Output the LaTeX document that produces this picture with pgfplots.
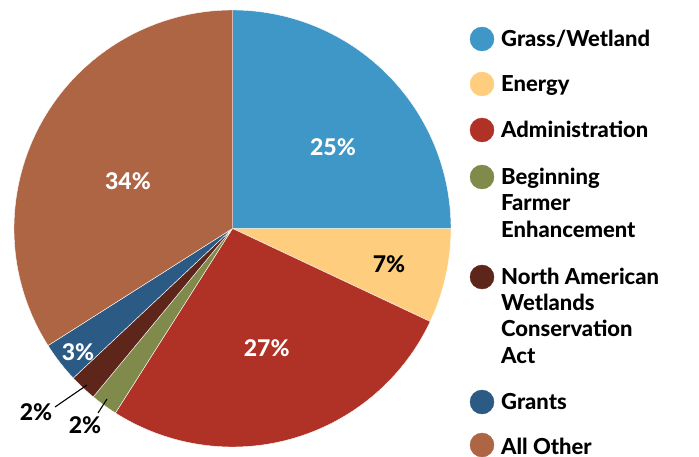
\documentclass[border=0pt]{standalone}
\usepackage{pgfplots}
\pgfplotsset{compat=1.18}
\usepackage{pgfplotstable}
\usepackage{fontspec}
\setmainfont{Lato}[BoldFont={Lato Heavy}]

\definecolor{c0}{HTML}{3F97C7}
\definecolor{c1}{HTML}{FECE7E}
\definecolor{c2}{HTML}{B03125}
\definecolor{c3}{HTML}{7F8A4B}
\definecolor{c4}{HTML}{5E261B}
\definecolor{c5}{HTML}{2B5A85}
\definecolor{c6}{HTML}{AE6544}

% share of each program, in percent, clockwise from 12 o'clock
\pgfplotstableread{
idx value
0 25
1 7
2 27
3 2
4 2
5 3
6 34
}\piedata

% label positions (pixel grid, y up) and values
\pgfplotstableread{
x y v
333 309.3 25
266.7 108 27
128 275 34
78 104 3
}\whitelabels
\pgfplotstableread{
x y v
389 192 7
36 44 2
85 31 2
}\blacklabels

\def\cum{0}
\pgfplotsforeachungrouped \i in {0,...,6}{%
  \pgfplotstablegetelem{\i}{value}\of\piedata
  \pgfmathsetmacro\a{90-3.6*\cum}%
  \pgfmathsetmacro\cum{\cum+\pgfplotsretval}%
  \pgfmathsetmacro\b{90-3.6*\cum}%
  \global\let\cum\cum
  \expandafter\xdef\csname sa\i\endcsname{\a}%
  \expandafter\xdef\csname ea\i\endcsname{\b}%
}

\begin{document}
\begin{tikzpicture}
\begin{axis}[
  width=699pt, height=456pt, scale only axis,
  xmin=0, xmax=699, ymin=0, ymax=456,
  hide axis, clip=false,
  /pgf/number format/assume math mode=true,
]
\pgfplotsinvokeforeach{0,...,6}{%
  \edef\tmp{\noexpand\fill[c#1, draw=white, line width=0.4pt]
    (axis cs:232.5,227.5) -- ++(\csname sa#1\endcsname:218.5pt)
    arc[start angle=\csname sa#1\endcsname, end angle=\csname ea#1\endcsname, radius=218.5pt] -- cycle;}%
  \tmp
}

% leader lines for the two small slices
\addplot[black, line width=1.1pt, mark=none] coordinates {(87,71) (55,49)};
\addplot[black, line width=1.1pt, mark=none] coordinates {(107,57) (98,43)};

% slice labels
\addplot[draw=none, mark=none, point meta=explicit,
  nodes near coords={\pgfmathprintnumber{\pgfplotspointmeta}\%},
  every node near coord/.append style={anchor=center, text=white, font=\fontsize{23}{26}\selectfont\bfseries}]
  table[x=x, y=y, meta=v] {\whitelabels};
\addplot[draw=none, mark=none, point meta=explicit,
  nodes near coords={\pgfmathprintnumber{\pgfplotspointmeta}\%},
  every node near coord/.append style={anchor=center, text=black, font=\fontsize{23}{26}\selectfont\bfseries}]
  table[x=x, y=y, meta=v] {\blacklabels};

% legend markers
\addplot[only marks, mark=*, mark size=12pt, c0, mark options={draw=none, fill=c0}] coordinates {(482,417)};
\addplot[only marks, mark=*, mark size=12pt, c1, mark options={draw=none, fill=c1}] coordinates {(482,372)};
\addplot[only marks, mark=*, mark size=12pt, c2, mark options={draw=none, fill=c2}] coordinates {(482,326)};
\addplot[only marks, mark=*, mark size=12pt, c3, mark options={draw=none, fill=c3}] coordinates {(482,279)};
\addplot[only marks, mark=*, mark size=12pt, c4, mark options={draw=none, fill=c4}] coordinates {(482,179)};
\addplot[only marks, mark=*, mark size=12pt, c5, mark options={draw=none, fill=c5}] coordinates {(482,54)};
\addplot[only marks, mark=*, mark size=12pt, c6, mark options={draw=none, fill=c6}] coordinates {(482,11)};

% legend text
\begin{scope}[every node/.style={anchor=base west, inner sep=0pt, font=\fontsize{22}{26}\selectfont\bfseries}]
\node at (axis cs:501,409.5) {Grass/Wetland};
\node at (axis cs:501,364.5) {Energy};
\node at (axis cs:501,318.5) {Administration};
\node at (axis cs:501,271.5) {Beginning};
\node at (axis cs:501,245) {Farmer};
\node at (axis cs:501,218.5) {Enhancement};
\node at (axis cs:501,171.7) {North American};
\node at (axis cs:501,146) {Wetlands};
\node at (axis cs:501,119.3) {Conservation};
\node at (axis cs:501,92.7) {Act};
\node at (axis cs:501,46.7) {Grants};
\node at (axis cs:501,2) {All Other};
\end{scope}
\end{axis}
\pgfresetboundingbox
\useasboundingbox (0,0) rectangle (699pt,456pt);
\end{tikzpicture}
\end{document}
